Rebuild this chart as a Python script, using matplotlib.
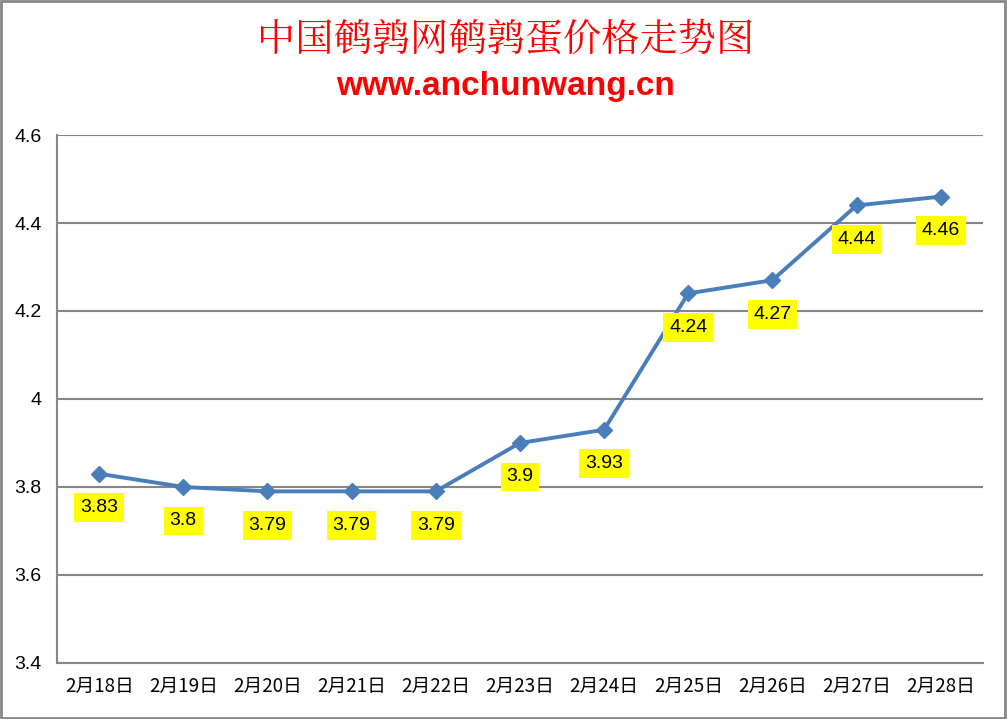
import matplotlib.pyplot as plt
from matplotlib.patches import Rectangle

# data
dates = ['2月18日', '2月19日', '2月20日', '2月21日', '2月22日', '2月23日',
         '2月24日', '2月25日', '2月26日', '2月27日', '2月28日']
prices = [3.83, 3.8, 3.79, 3.79, 3.79, 3.9, 3.93, 4.24, 4.27, 4.44, 4.46]
yticks = [3.4, 3.6, 3.8, 4.0, 4.2, 4.4, 4.6]
ytick_labels = ['3.4', '3.6', '3.8', '4', '4.2', '4.4', '4.6']

plt.rcParams['font.family'] = ['Liberation Sans', 'Noto Sans CJK SC', 'DejaVu Sans']

fig = plt.figure(figsize=(10.07, 7.19), dpi=100)
ax = fig.add_axes([0.0566, 0.078, 0.9194, 0.7342])

x = list(range(len(prices)))
ax.plot(x, prices, '-', color='#4a7ebb', linewidth=2.8, marker='D',
        markersize=8.5, zorder=3)

for xi, p in zip(x, prices):
    ax.annotate('%g' % p, (xi, p), xytext=(0, -24.5), textcoords='offset points',
                ha='center', va='center', fontsize=14, color='black',
                bbox=dict(boxstyle='square,pad=0.3', fc='#ffff00', ec='none'),
                zorder=4)

ax.set_xlim(-0.5, len(prices) - 0.5)
ax.set_ylim(3.4, 4.6)
ax.set_yticks(yticks)
ax.set_yticklabels(ytick_labels, fontsize=14)
ax.set_xticks(x)
ax.set_xticklabels(dates, fontsize=13.5, family=['Noto Sans CJK SC', 'DejaVu Sans'])
ax.tick_params(length=0, pad=11)
ax.tick_params(axis='x', pad=9)
ax.grid(axis='y', color='#868686', linewidth=1.5)
ax.set_axisbelow(True)
for s in ['top', 'right']:
    ax.spines[s].set_visible(False)
for s in ['left', 'bottom']:
    ax.spines[s].set_color('#868686')
    ax.spines[s].set_linewidth(1.5)

fig.text(0.502, 0.943, '中国鹌鹑网鹌鹑蛋价格走势图', ha='center', va='center',
         fontsize=27.5, color='#ff0000', family=['Noto Serif CJK SC', 'Noto Sans CJK SC'])
fig.text(0.502, 0.879, 'www.anchunwang.cn', ha='center', va='center',
         fontsize=24, color='#ff0000', fontweight='bold')

fig.patches.append(Rectangle((0.001, 0.001), 0.997, 0.997, transform=fig.transFigure,
                             fill=False, ec='#868686', lw=2))

plt.savefig('out.png')
